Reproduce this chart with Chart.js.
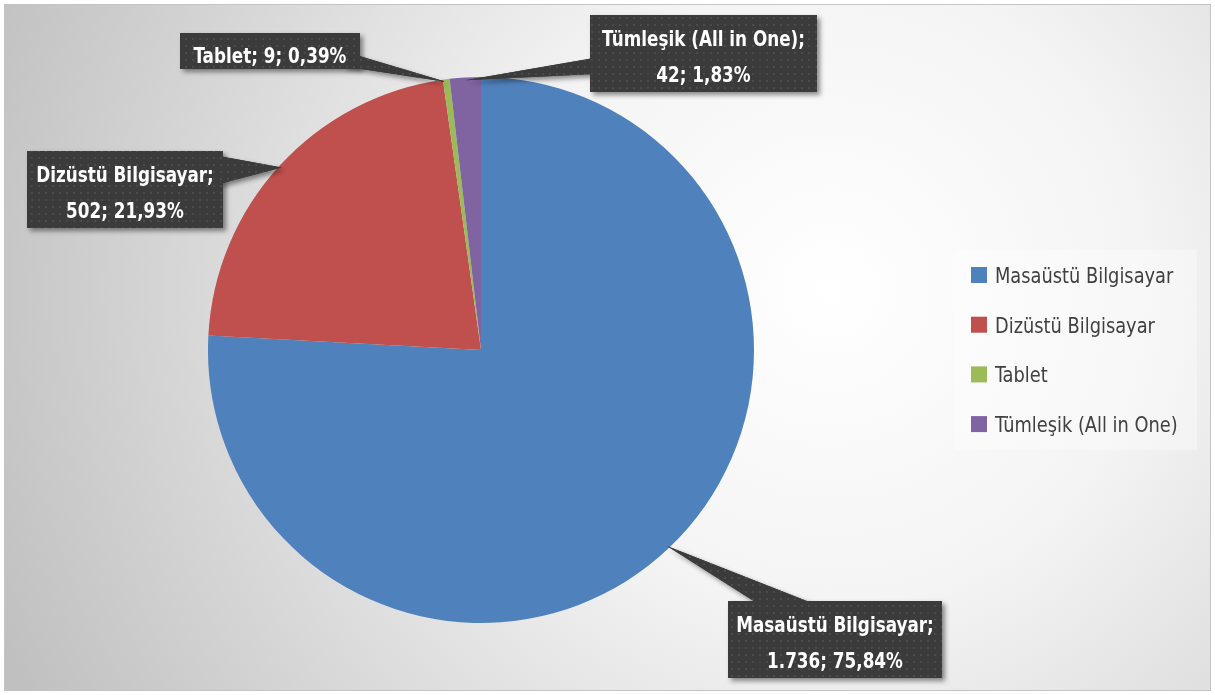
<!DOCTYPE html>
<html lang="tr">
<head>
<meta charset="UTF-8">
<title>Bilgisayar Türleri</title>
<script src="https://cdn.jsdelivr.net/npm/chart.js"></script>
<style>
  body { margin: 0; background: #fff; }
  canvas { display: block; }
</style>
</head>
<body>
<canvas id="pieChart" width="1215" height="695"></canvas>
<script>
  // data
  const categories = ['Masaüstü Bilgisayar', 'Dizüstü Bilgisayar', 'Tablet', 'Tümleşik (All in One)'];
  const counts = [1736, 502, 9, 42];
  const sliceColors = ['#4F81BD', '#C0504D', '#9BBB59', '#8064A2'];

  const labelFont = 'bold 22px "DejaVu Sans Condensed", "DejaVu Sans", sans-serif';
  const legendFont = '22px "DejaVu Sans Condensed", "DejaVu Sans", sans-serif';
  const labelSqueeze = 0.85;   // the original uses a narrow face
  const legendSqueeze = 0.9;

  // callout boxes (x, y, w, h) and the two base points of the pointer
  const callouts = [
    { box: [728, 601, 214, 77], base: [[760, 605], [817, 605]], twoLines: true },
    { box: [27, 151, 196, 77], base: [[219, 156], [219, 184]], twoLines: true },
    { box: [180, 33, 180, 36], base: [[356, 55], [342, 66]], twoLines: false },
    { box: [590, 15, 227, 77], base: [[594, 58], [594, 74]], twoLines: true }
  ];

  function formatCount(n) {
    return String(n).replace(/\B(?=(\d{3})+(?!\d))/g, '.');
  }
  function formatPct(v) {
    return v.toFixed(2).replace('.', ',') + '%';
  }

  function squeezedText(ctx, text, x, y, sx, align) {
    ctx.save();
    ctx.translate(x, y);
    ctx.scale(sx, 1);
    ctx.textAlign = align;
    ctx.fillText(text, 0, 0);
    ctx.restore();
  }

  let dotPattern = null;
  function getPattern(ctx) {
    if (dotPattern) return dotPattern;
    const c = document.createElement('canvas');
    c.width = 7; c.height = 7;
    const p = c.getContext('2d');
    p.fillStyle = '#3b3b3b';
    p.fillRect(0, 0, 7, 7);
    p.fillStyle = '#4b4b4b';
    p.fillRect(3, 3, 2, 2);
    dotPattern = ctx.createPattern(c, 'repeat');
    return dotPattern;
  }

  const backgroundPlugin = {
    id: 'background',
    beforeDraw(chart) {
      const ctx = chart.ctx;
      ctx.save();
      ctx.fillStyle = '#ffffff';
      ctx.fillRect(0, 0, chart.width, chart.height);
      const g = ctx.createRadialGradient(830, 290, 0, 830, 290, 900);
      g.addColorStop(0, '#ffffff');
      g.addColorStop(0.35, '#f4f4f4');
      g.addColorStop(1, '#c0c0c0');
      ctx.fillStyle = g;
      ctx.fillRect(5, 5, chart.width - 10, chart.height - 10);
      ctx.strokeStyle = '#c4c4c4';
      ctx.lineWidth = 1;
      ctx.strokeRect(4.5, 4.5, chart.width - 9, chart.height - 9);
      ctx.restore();
    }
  };

  const calloutPlugin = {
    id: 'callouts',
    afterDatasetsDraw(chart) {
      const ctx = chart.ctx;
      const meta = chart.getDatasetMeta(0);
      const values = chart.data.datasets[0].data;
      const total = values.reduce((a, b) => a + b, 0);

      meta.data.forEach((arc, i) => {
        const p = arc.getProps(['x', 'y', 'startAngle', 'endAngle', 'outerRadius']);
        const mid = (p.startAngle + p.endAngle) / 2;
        const tipX = p.x + Math.cos(mid) * p.outerRadius * 0.99;
        const tipY = p.y + Math.sin(mid) * p.outerRadius * 0.99;
        const c = callouts[i];
        const [bx, by, bw, bh] = c.box;

        const shape = () => {
          ctx.beginPath();
          ctx.moveTo(tipX, tipY);
          ctx.lineTo(c.base[0][0], c.base[0][1]);
          ctx.lineTo(c.base[1][0], c.base[1][1]);
          ctx.closePath();
          ctx.fill();
          ctx.fillRect(bx, by, bw, bh);
        };

        ctx.save();
        ctx.shadowColor = 'rgba(0,0,0,0.45)';
        ctx.shadowBlur = 5;
        ctx.shadowOffsetX = 3;
        ctx.shadowOffsetY = 3;
        ctx.fillStyle = getPattern(ctx);
        shape();
        ctx.restore();

        // again without shadow so the pointer merges with the box
        ctx.save();
        ctx.fillStyle = getPattern(ctx);
        shape();

        const name = chart.data.labels[i];
        const valText = formatCount(values[i]) + '; ' + formatPct(values[i] / total * 100);
        const lines = c.twoLines ? [name + ';', valText] : [name + '; ' + valText];
        ctx.fillStyle = '#ffffff';
        ctx.font = labelFont;
        ctx.textBaseline = 'alphabetic';
        const cx = bx + bw / 2;
        if (lines.length === 1) {
          squeezedText(ctx, lines[0], cx, by + 30, labelSqueeze, 'center');
        } else {
          squeezedText(ctx, lines[0], cx, by + 31, labelSqueeze, 'center');
          squeezedText(ctx, lines[1], cx, by + 67, labelSqueeze, 'center');
        }
        ctx.restore();
      });

      // legend
      ctx.save();
      ctx.fillStyle = 'rgba(255,255,255,0.35)';
      ctx.fillRect(955, 250, 242, 200);
      ctx.font = legendFont;
      ctx.textBaseline = 'alphabetic';
      chart.data.labels.forEach((lbl, i) => {
        const base = 283 + i * 49.7;
        ctx.fillStyle = chart.data.datasets[0].backgroundColor[i];
        ctx.fillRect(971, base - 16, 16, 16);
        ctx.fillStyle = '#404040';
        squeezedText(ctx, lbl, 995, base, legendSqueeze, 'left');
      });
      ctx.restore();
    }
  };

  const ctx = document.getElementById('pieChart').getContext('2d');
  const pieChart = new Chart(ctx, {
    type: 'pie',
    data: {
      labels: categories,
      datasets: [{
        data: counts,
        backgroundColor: sliceColors,
        borderWidth: 0
      }]
    },
    options: {
      responsive: false,
      animation: false,
      devicePixelRatio: 1,
      layout: {
        padding: { left: 208, right: 461, top: 77, bottom: 72 }
      },
      plugins: {
        legend: { display: false },
        tooltip: { enabled: false }
      }
    },
    plugins: [backgroundPlugin, calloutPlugin]
  });
</script>
</body>
</html>
